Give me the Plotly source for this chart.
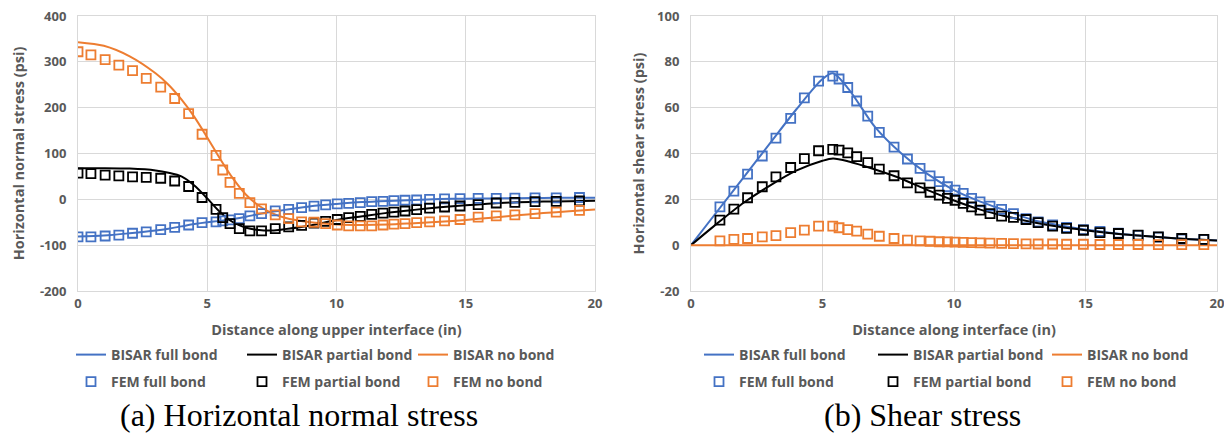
import plotly.graph_objects as go

# ---------------- (a) Horizontal normal stress ----------------
left_fem_x = [0, 0.5, 1.05, 1.58, 2.11, 2.64, 3.2, 3.74, 4.28, 4.8, 5.34, 5.6, 5.88, 6.24, 6.65,
              7.1, 7.63, 8.15, 8.65, 9.13, 9.58, 10.03, 10.47, 10.92, 11.36, 11.8, 12.22, 12.65,
              13.1, 13.6, 14.18, 14.78, 15.48, 16.18, 16.9, 17.68, 18.5, 19.4]
left_fem_full = [-82, -82, -80, -78, -74, -71, -66, -61, -56, -51, -49, -47, -45, -42, -36,
                 -31, -25, -22, -18, -15, -12, -10, -9, -7, -5, -4.5, -3, -2, -1.5, 0, 1, 1.5,
                 2, 2, 2.5, 3, 3, 4]
left_fem_partial = [57, 56, 53, 51, 49, 48, 46, 40, 28, 4, -22, -40, -53, -64, -69, -69, -64,
                    -60, -57, -52, -48, -44, -40, -37, -33, -30, -28, -25.5, -22.6, -19, -16.7,
                    -14.6, -11.6, -8, -6.6, -5, -4.4, -3.6]
left_fem_none = [322, 315, 305, 293, 281, 264, 245, 220, 187, 142, 96, 64, 37, 13, -7, -21, -34,
                 -42, -49, -50, -53, -56, -58, -58, -58, -56, -54, -53, -51, -49, -47, -44, -39,
                 -36, -34, -31, -28, -24]

left_bisar_x = [0, 1, 2, 3, 3.5, 4, 4.5, 5, 5.5, 6, 6.5, 7, 7.5, 8, 9, 10, 11, 12, 13, 14, 15,
                16, 17, 18, 19, 20]
left_bisar_full = [-81, -79, -74, -68, -64, -59, -54, -50, -47, -43, -38, -32, -27, -23, -15,
                   -10, -6, -3.5, -1.5, 0.5, 1.5, 2, 2.5, 3, 3.5, 3.5]
left_bisar_partial = [68, 68, 67, 63, 58, 50, 30, 2, -28, -50, -62, -67, -68, -65, -57, -45,
                      -37, -29, -23, -17.5, -13, -9, -6.5, -5, -4, -3]
left_bisar_none = [343, 335, 312, 275, 250, 218, 180, 135, 88, 45, 10, -14, -30, -40, -50, -55,
                   -56, -55, -52, -49, -45, -40, -35, -30, -26, -22]

left_y_ticks = [-200, -100, 0, 100, 200, 300, 400]
left_y_labels = ["-200", "-100", "0", "100", "200", "300", "400"]

# ---------------- (b) Shear stress ----------------
right_fem_x = [1.1, 1.63, 2.15, 2.71, 3.23, 3.79, 4.31, 4.85, 5.39, 5.63, 5.96, 6.3, 6.72, 7.16,
               7.72, 8.23, 8.71, 9.09, 9.44, 9.75, 10.04, 10.35, 10.67, 10.99, 11.37, 11.81,
               12.26, 12.74, 13.2, 13.75, 14.28, 14.92, 15.55, 16.25, 17.0, 17.77, 18.66, 19.5]
right_fem_full = [16.7, 23.6, 31, 38.9, 46.7, 55.3, 64.3, 71.6, 73.8, 72.5, 68.8, 62.9, 56.3,
                  49.2, 42.8, 37.6, 33.5, 30.2, 27.7, 25.5, 24, 22.6, 20.4, 18.9, 17, 15.6, 13.8,
                  11.6, 10.2, 8.8, 7.7, 6.8, 6.0, 5.2, 4.3, 3.5, 2.7, 2.4]
right_fem_partial = [10.9, 15.7, 20.7, 25.5, 29.8, 33.9, 37.8, 41.2, 41.8, 41.5, 40.3, 38.6,
                     36.0, 33.2, 30.3, 27.2, 25.0, 23.1, 21.8, 20.4, 19.6, 18.2, 16.7, 15.3,
                     13.8, 12.7, 12.1, 11.2, 9.8, 8.3, 7.3, 6.5, 5.5, 5.1, 4.4, 3.6, 2.9, 2.5]
right_fem_none = [1.9, 2.5, 2.9, 3.6, 4.2, 5.5, 6.6, 8.3, 8.3, 7.6, 6.8, 6.1, 4.8, 3.9, 2.9, 2.2,
                  1.9, 1.7, 1.5, 1.4, 1.3, 1.2, 1.1, 1.0, 0.9, 0.8, 0.7, 0.6, 0.5, 0.5, 0.4, 0.4,
                  0.3, 0.3, 0.3, 0.2, 0.2, 0.2]

right_bisar_x = [0, 1, 2, 3, 4, 5, 5.4, 6, 7, 8, 9, 10, 11, 12, 13, 14, 15, 16, 17, 18, 19, 20]
right_bisar_full = [0, 14.8, 29.6, 44.4, 59.2, 72.5, 75, 68, 51.5, 40, 31, 24, 19, 15, 11, 8.7,
                    6.8, 5.3, 4.2, 3.3, 2.6, 2.0]
right_bisar_partial = [0, 9.5, 18.5, 26, 32.5, 36.8, 37.8, 36.5, 33, 29, 24, 19.5, 15.5, 12.5,
                       10, 8, 6.5, 5.2, 4.2, 3.3, 2.6, 2.0]
right_bisar_none = [0, 0, 0, 0, 0, 0, 0, 0, 0, 0, 0, 0, 0, 0, 0, 0, 0, 0, 0, 0, 0, 0]

right_y_ticks = [-20, 0, 20, 40, 60, 80, 100]
right_y_labels = ["-20", "0", "20", "40", "60", "80", "100"]

x_ticks = [0, 5, 10, 15, 20]

series_names = ["full bond", "partial bond", "no bond"]
colors = ["#4472C4", "#000000", "#ED7D31"]

# ---------------- geometry (page has an 8px body margin) ----------------
W, H = 1224, 433
ML, MR, MT, MB = 70, 15, 8, 150
PW, PH = W - ML - MR, H - MT - MB


def px_x(p):  # reference-image pixel -> paper coordinate
    return (p - 78) / PW


def px_y(p):
    return (291 - p) / PH


GRAY = "#595959"
FONT = "Open Sans"

fig = go.Figure()

panels = [
    ("x", "y", left_bisar_x, [left_bisar_full, left_bisar_partial, left_bisar_none],
     left_fem_x, [left_fem_full, left_fem_partial, left_fem_none], "legend", "legend2"),
    ("x2", "y2", right_bisar_x, [right_bisar_full, right_bisar_partial, right_bisar_none],
     right_fem_x, [right_fem_full, right_fem_partial, right_fem_none], "legend3", "legend4"),
]

for xa, ya, bx, bys, fx, fys, lg1, lg2 in panels:
    for name, col, by in zip(series_names, colors, bys):
        fig.add_trace(go.Scatter(
            x=bx, y=by, mode="lines", name="BISAR " + name, xaxis=xa, yaxis=ya,
            line=dict(color=col, width=2, shape="spline", smoothing=0.8), legend=lg1))
    for name, col, fy in zip(series_names, colors, fys):
        fig.add_trace(go.Scatter(
            x=fx, y=fy, mode="markers", name="FEM " + name, xaxis=xa, yaxis=ya,
            marker=dict(symbol="square-open", size=9, color=col, line=dict(width=1.8, color=col)),
            legend=lg2))

axis_common = dict(
    showgrid=True, gridcolor="#D9D9D9", gridwidth=1, zeroline=False,
    showline=True, linecolor="#D9D9D9", linewidth=1, mirror=True, ticks="",
    tickfont=dict(family=FONT, size=13, color=GRAY, weight="bold"),
    ticklabeloverflow="allow", automargin=False,
)
title_font = dict(family=FONT, size=14.5, color=GRAY, weight="bold")

legend_common = dict(
    orientation="h", xanchor="left", yanchor="middle", bgcolor="rgba(0,0,0,0)",
    font=dict(family=FONT, size=14, color=GRAY, weight="bold"),
    entrywidthmode="pixels", itemwidth=30, tracegroupgap=0,
)

fig.update_layout(
    width=W, height=H,
    margin=dict(l=ML, r=MR, t=MT, b=MB),
    paper_bgcolor="white", plot_bgcolor="white",
    showlegend=True,
    xaxis=dict(domain=[0, px_x(595)], range=[0, 20], tickvals=x_ticks, anchor="y",
               title=dict(text="Distance along upper interface (in)", font=title_font, standoff=14),
               **axis_common),
    yaxis=dict(domain=[0, 1], range=[-200, 400], tickvals=left_y_ticks, ticktext=left_y_labels,
               anchor="x", ticklabelstandoff=8,
               title=dict(text="Horizontal normal stress (psi)", font=title_font, standoff=11),
               **axis_common),
    xaxis2=dict(domain=[px_x(691), px_x(1217)], range=[0, 20], tickvals=x_ticks, anchor="y2",
                title=dict(text="Distance along interface (in)", font=title_font, standoff=14),
                **axis_common),
    yaxis2=dict(domain=[0, 1], range=[-20, 100], tickvals=right_y_ticks, ticktext=right_y_labels,
                anchor="x2", ticklabelstandoff=8,
                title=dict(text="Horizontal shear stress (psi)", font=title_font, standoff=9),
                **axis_common),
    legend=dict(x=px_x(71), y=px_y(355), entrywidth=126, **legend_common),
    legend2=dict(x=px_x(71), y=px_y(382), entrywidth=126, **legend_common),
    legend3=dict(x=px_x(699), y=px_y(355), entrywidth=129, **legend_common),
    legend4=dict(x=px_x(699), y=px_y(382), entrywidth=129, **legend_common),
    annotations=[
        dict(text="(a) Horizontal normal stress", xref="paper", yref="paper",
             x=px_x(299), y=px_y(415), xanchor="center", yanchor="middle", showarrow=False,
             font=dict(family="Liberation Serif", size=32, color="black")),
        dict(text="(b) Shear stress", xref="paper", yref="paper",
             x=px_x(922), y=px_y(415), xanchor="center", yanchor="middle", showarrow=False,
             font=dict(family="Liberation Serif", size=32, color="black")),
    ],
)

fig.write_html("out.html")
